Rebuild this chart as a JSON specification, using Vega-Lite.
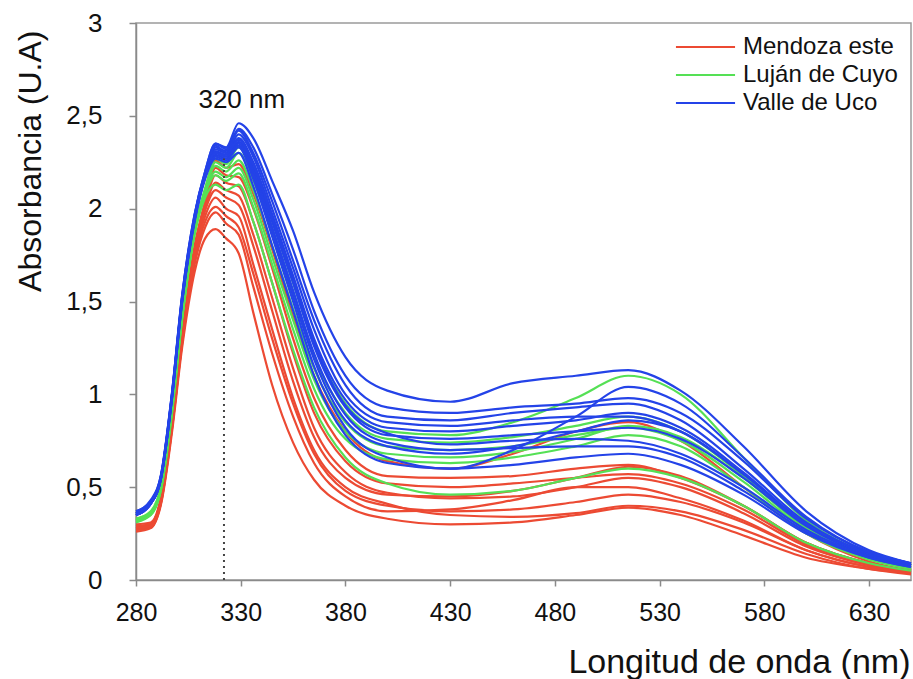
{
"$schema": "https://vega.github.io/schema/vega-lite/v6.json",
"width": 775, "height": 557,
"autosize": {"type": "none"},
"padding": {"left": 136, "top": 23, "right": 2, "bottom": 99},
"background": "white",
"datasets": {
"series": [
{"s":"R1","g":"Mendoza este"},{"s":"R2","g":"Mendoza este"},{"s":"R3","g":"Mendoza este"},{"s":"R4","g":"Mendoza este"},{"s":"R5","g":"Mendoza este"},{"s":"R6","g":"Mendoza este"},{"s":"R7","g":"Mendoza este"},{"s":"R8","g":"Mendoza este"},{"s":"R9","g":"Mendoza este"},
{"s":"G1","g":"Luján de Cuyo"},{"s":"G2","g":"Luján de Cuyo"},{"s":"G3","g":"Luján de Cuyo"},{"s":"G4","g":"Luján de Cuyo"},{"s":"G5","g":"Luján de Cuyo"},{"s":"G6","g":"Luján de Cuyo"},
{"s":"B1","g":"Valle de Uco"},{"s":"B2","g":"Valle de Uco"},{"s":"B3","g":"Valle de Uco"},{"s":"B4","g":"Valle de Uco"},{"s":"B5","g":"Valle de Uco"},{"s":"B6","g":"Valle de Uco"},{"s":"B7","g":"Valle de Uco"},{"s":"B8","g":"Valle de Uco"},{"s":"B9","g":"Valle de Uco"},{"s":"B10","g":"Valle de Uco"},{"s":"B11","g":"Valle de Uco"}
],
"spectra": [
{"s":"R1","x":280,"y":0.3},{"s":"R1","x":287,"y":0.31},{"s":"R1","x":292,"y":0.45},{"s":"R1","x":297,"y":0.84},{"s":"R1","x":302,"y":1.32},{"s":"R1","x":308,"y":1.8},{"s":"R1","x":313,"y":2.04},{"s":"R1","x":318,"y":2.26},{"s":"R1","x":323,"y":2.22},{"s":"R1","x":329,"y":2.24},{"s":"R1","x":336,"y":2.08},{"s":"R1","x":345,"y":1.78},{"s":"R1","x":355,"y":1.42},{"s":"R1","x":365,"y":1.1},{"s":"R1","x":380,"y":0.8},{"s":"R1","x":400,"y":0.64},{"s":"R1","x":430,"y":0.6},{"s":"R1","x":460,"y":0.68},{"s":"R1","x":490,"y":0.8},{"s":"R1","x":515,"y":0.85},{"s":"R1","x":540,"y":0.75},{"s":"R1","x":570,"y":0.5},{"s":"R1","x":600,"y":0.25},{"s":"R1","x":630,"y":0.1},{"s":"R1","x":650,"y":0.05},
{"s":"R2","x":280,"y":0.29},{"s":"R2","x":287,"y":0.3},{"s":"R2","x":292,"y":0.44},{"s":"R2","x":297,"y":0.83},{"s":"R2","x":302,"y":1.31},{"s":"R2","x":308,"y":1.79},{"s":"R2","x":313,"y":2.03},{"s":"R2","x":318,"y":2.22},{"s":"R2","x":323,"y":2.18},{"s":"R2","x":329,"y":2.17},{"s":"R2","x":336,"y":2.0},{"s":"R2","x":345,"y":1.68},{"s":"R2","x":355,"y":1.3},{"s":"R2","x":365,"y":0.98},{"s":"R2","x":380,"y":0.7},{"s":"R2","x":400,"y":0.56},{"s":"R2","x":430,"y":0.55},{"s":"R2","x":460,"y":0.56},{"s":"R2","x":490,"y":0.6},{"s":"R2","x":515,"y":0.62},{"s":"R2","x":540,"y":0.55},{"s":"R2","x":570,"y":0.4},{"s":"R2","x":600,"y":0.2},{"s":"R2","x":630,"y":0.09},{"s":"R2","x":650,"y":0.05},
{"s":"R3","x":280,"y":0.28},{"s":"R3","x":287,"y":0.3},{"s":"R3","x":292,"y":0.44},{"s":"R3","x":297,"y":0.82},{"s":"R3","x":302,"y":1.3},{"s":"R3","x":308,"y":1.78},{"s":"R3","x":313,"y":2.02},{"s":"R3","x":318,"y":2.18},{"s":"R3","x":323,"y":2.14},{"s":"R3","x":329,"y":2.12},{"s":"R3","x":336,"y":1.93},{"s":"R3","x":345,"y":1.6},{"s":"R3","x":355,"y":1.22},{"s":"R3","x":365,"y":0.9},{"s":"R3","x":380,"y":0.64},{"s":"R3","x":400,"y":0.52},{"s":"R3","x":430,"y":0.5},{"s":"R3","x":460,"y":0.52},{"s":"R3","x":490,"y":0.55},{"s":"R3","x":515,"y":0.57},{"s":"R3","x":540,"y":0.52},{"s":"R3","x":570,"y":0.38},{"s":"R3","x":600,"y":0.19},{"s":"R3","x":630,"y":0.08},{"s":"R3","x":650,"y":0.05},
{"s":"R4","x":280,"y":0.29},{"s":"R4","x":287,"y":0.3},{"s":"R4","x":292,"y":0.44},{"s":"R4","x":297,"y":0.83},{"s":"R4","x":302,"y":1.3},{"s":"R4","x":308,"y":1.77},{"s":"R4","x":313,"y":2.0},{"s":"R4","x":318,"y":2.14},{"s":"R4","x":323,"y":2.1},{"s":"R4","x":329,"y":2.07},{"s":"R4","x":336,"y":1.86},{"s":"R4","x":345,"y":1.52},{"s":"R4","x":355,"y":1.14},{"s":"R4","x":365,"y":0.82},{"s":"R4","x":380,"y":0.58},{"s":"R4","x":400,"y":0.47},{"s":"R4","x":430,"y":0.44},{"s":"R4","x":460,"y":0.45},{"s":"R4","x":490,"y":0.5},{"s":"R4","x":515,"y":0.55},{"s":"R4","x":540,"y":0.5},{"s":"R4","x":570,"y":0.36},{"s":"R4","x":600,"y":0.18},{"s":"R4","x":630,"y":0.08},{"s":"R4","x":650,"y":0.04},
{"s":"R5","x":280,"y":0.28},{"s":"R5","x":287,"y":0.29},{"s":"R5","x":292,"y":0.43},{"s":"R5","x":297,"y":0.82},{"s":"R5","x":302,"y":1.29},{"s":"R5","x":308,"y":1.76},{"s":"R5","x":313,"y":1.99},{"s":"R5","x":318,"y":2.1},{"s":"R5","x":323,"y":2.06},{"s":"R5","x":329,"y":2.02},{"s":"R5","x":336,"y":1.8},{"s":"R5","x":345,"y":1.45},{"s":"R5","x":355,"y":1.07},{"s":"R5","x":365,"y":0.77},{"s":"R5","x":380,"y":0.55},{"s":"R5","x":400,"y":0.46},{"s":"R5","x":430,"y":0.45},{"s":"R5","x":460,"y":0.48},{"s":"R5","x":490,"y":0.55},{"s":"R5","x":515,"y":0.61},{"s":"R5","x":540,"y":0.56},{"s":"R5","x":570,"y":0.4},{"s":"R5","x":600,"y":0.2},{"s":"R5","x":630,"y":0.09},{"s":"R5","x":650,"y":0.05},
{"s":"R6","x":280,"y":0.27},{"s":"R6","x":287,"y":0.29},{"s":"R6","x":292,"y":0.42},{"s":"R6","x":297,"y":0.8},{"s":"R6","x":302,"y":1.28},{"s":"R6","x":308,"y":1.72},{"s":"R6","x":313,"y":1.93},{"s":"R6","x":318,"y":2.01},{"s":"R6","x":323,"y":1.96},{"s":"R6","x":329,"y":1.9},{"s":"R6","x":336,"y":1.65},{"s":"R6","x":345,"y":1.3},{"s":"R6","x":355,"y":0.95},{"s":"R6","x":365,"y":0.68},{"s":"R6","x":380,"y":0.48},{"s":"R6","x":400,"y":0.4},{"s":"R6","x":430,"y":0.37},{"s":"R6","x":460,"y":0.38},{"s":"R6","x":490,"y":0.42},{"s":"R6","x":515,"y":0.46},{"s":"R6","x":540,"y":0.42},{"s":"R6","x":570,"y":0.31},{"s":"R6","x":600,"y":0.16},{"s":"R6","x":630,"y":0.07},{"s":"R6","x":650,"y":0.04},
{"s":"R7","x":280,"y":0.27},{"s":"R7","x":287,"y":0.28},{"s":"R7","x":292,"y":0.42},{"s":"R7","x":297,"y":0.8},{"s":"R7","x":302,"y":1.27},{"s":"R7","x":308,"y":1.7},{"s":"R7","x":313,"y":1.9},{"s":"R7","x":318,"y":1.98},{"s":"R7","x":323,"y":1.92},{"s":"R7","x":329,"y":1.86},{"s":"R7","x":336,"y":1.58},{"s":"R7","x":345,"y":1.22},{"s":"R7","x":355,"y":0.88},{"s":"R7","x":365,"y":0.63},{"s":"R7","x":380,"y":0.45},{"s":"R7","x":400,"y":0.37},{"s":"R7","x":430,"y":0.38},{"s":"R7","x":460,"y":0.43},{"s":"R7","x":490,"y":0.5},{"s":"R7","x":515,"y":0.5},{"s":"R7","x":540,"y":0.44},{"s":"R7","x":570,"y":0.32},{"s":"R7","x":600,"y":0.16},{"s":"R7","x":630,"y":0.07},{"s":"R7","x":650,"y":0.04},
{"s":"R8","x":280,"y":0.26},{"s":"R8","x":287,"y":0.28},{"s":"R8","x":292,"y":0.41},{"s":"R8","x":297,"y":0.78},{"s":"R8","x":302,"y":1.25},{"s":"R8","x":308,"y":1.66},{"s":"R8","x":313,"y":1.84},{"s":"R8","x":318,"y":1.89},{"s":"R8","x":323,"y":1.84},{"s":"R8","x":329,"y":1.76},{"s":"R8","x":336,"y":1.44},{"s":"R8","x":345,"y":1.05},{"s":"R8","x":355,"y":0.74},{"s":"R8","x":365,"y":0.54},{"s":"R8","x":380,"y":0.4},{"s":"R8","x":400,"y":0.33},{"s":"R8","x":430,"y":0.3},{"s":"R8","x":460,"y":0.31},{"s":"R8","x":490,"y":0.35},{"s":"R8","x":515,"y":0.39},{"s":"R8","x":540,"y":0.35},{"s":"R8","x":570,"y":0.24},{"s":"R8","x":600,"y":0.12},{"s":"R8","x":630,"y":0.06},{"s":"R8","x":650,"y":0.03},
{"s":"R9","x":280,"y":0.28},{"s":"R9","x":287,"y":0.29},{"s":"R9","x":292,"y":0.43},{"s":"R9","x":297,"y":0.81},{"s":"R9","x":302,"y":1.28},{"s":"R9","x":308,"y":1.74},{"s":"R9","x":313,"y":1.96},{"s":"R9","x":318,"y":2.06},{"s":"R9","x":323,"y":2.0},{"s":"R9","x":329,"y":1.96},{"s":"R9","x":336,"y":1.7},{"s":"R9","x":345,"y":1.35},{"s":"R9","x":355,"y":0.98},{"s":"R9","x":365,"y":0.7},{"s":"R9","x":380,"y":0.5},{"s":"R9","x":400,"y":0.41},{"s":"R9","x":430,"y":0.35},{"s":"R9","x":460,"y":0.34},{"s":"R9","x":490,"y":0.36},{"s":"R9","x":515,"y":0.4},{"s":"R9","x":540,"y":0.37},{"s":"R9","x":570,"y":0.27},{"s":"R9","x":600,"y":0.14},{"s":"R9","x":630,"y":0.06},{"s":"R9","x":650,"y":0.04},
{"s":"G1","x":280,"y":0.33},{"s":"G1","x":287,"y":0.37},{"s":"G1","x":292,"y":0.51},{"s":"G1","x":297,"y":0.91},{"s":"G1","x":302,"y":1.43},{"s":"G1","x":308,"y":1.89},{"s":"G1","x":313,"y":2.11},{"s":"G1","x":318,"y":2.27},{"s":"G1","x":323,"y":2.24},{"s":"G1","x":329,"y":2.33},{"s":"G1","x":336,"y":2.2},{"s":"G1","x":345,"y":1.93},{"s":"G1","x":355,"y":1.6},{"s":"G1","x":365,"y":1.27},{"s":"G1","x":380,"y":0.95},{"s":"G1","x":400,"y":0.8},{"s":"G1","x":430,"y":0.78},{"s":"G1","x":460,"y":0.85},{"s":"G1","x":490,"y":0.98},{"s":"G1","x":515,"y":1.1},{"s":"G1","x":540,"y":1.0},{"s":"G1","x":570,"y":0.66},{"s":"G1","x":600,"y":0.32},{"s":"G1","x":630,"y":0.14},{"s":"G1","x":650,"y":0.08},
{"s":"G2","x":280,"y":0.32},{"s":"G2","x":287,"y":0.36},{"s":"G2","x":292,"y":0.5},{"s":"G2","x":297,"y":0.9},{"s":"G2","x":302,"y":1.42},{"s":"G2","x":308,"y":1.88},{"s":"G2","x":313,"y":2.1},{"s":"G2","x":318,"y":2.25},{"s":"G2","x":323,"y":2.22},{"s":"G2","x":329,"y":2.3},{"s":"G2","x":336,"y":2.15},{"s":"G2","x":345,"y":1.87},{"s":"G2","x":355,"y":1.53},{"s":"G2","x":365,"y":1.2},{"s":"G2","x":380,"y":0.9},{"s":"G2","x":400,"y":0.76},{"s":"G2","x":430,"y":0.74},{"s":"G2","x":460,"y":0.77},{"s":"G2","x":490,"y":0.83},{"s":"G2","x":515,"y":0.88},{"s":"G2","x":540,"y":0.8},{"s":"G2","x":570,"y":0.56},{"s":"G2","x":600,"y":0.28},{"s":"G2","x":630,"y":0.12},{"s":"G2","x":650,"y":0.07},
{"s":"G3","x":280,"y":0.33},{"s":"G3","x":287,"y":0.36},{"s":"G3","x":292,"y":0.5},{"s":"G3","x":297,"y":0.9},{"s":"G3","x":302,"y":1.42},{"s":"G3","x":308,"y":1.88},{"s":"G3","x":313,"y":2.1},{"s":"G3","x":318,"y":2.23},{"s":"G3","x":323,"y":2.2},{"s":"G3","x":329,"y":2.26},{"s":"G3","x":336,"y":2.1},{"s":"G3","x":345,"y":1.8},{"s":"G3","x":355,"y":1.46},{"s":"G3","x":365,"y":1.14},{"s":"G3","x":380,"y":0.85},{"s":"G3","x":400,"y":0.72},{"s":"G3","x":430,"y":0.7},{"s":"G3","x":460,"y":0.72},{"s":"G3","x":490,"y":0.78},{"s":"G3","x":515,"y":0.82},{"s":"G3","x":540,"y":0.75},{"s":"G3","x":570,"y":0.53},{"s":"G3","x":600,"y":0.27},{"s":"G3","x":630,"y":0.12},{"s":"G3","x":650,"y":0.07},
{"s":"G4","x":280,"y":0.32},{"s":"G4","x":287,"y":0.36},{"s":"G4","x":292,"y":0.5},{"s":"G4","x":297,"y":0.9},{"s":"G4","x":302,"y":1.41},{"s":"G4","x":308,"y":1.87},{"s":"G4","x":313,"y":2.09},{"s":"G4","x":318,"y":2.2},{"s":"G4","x":323,"y":2.17},{"s":"G4","x":329,"y":2.22},{"s":"G4","x":336,"y":2.05},{"s":"G4","x":345,"y":1.74},{"s":"G4","x":355,"y":1.4},{"s":"G4","x":365,"y":1.08},{"s":"G4","x":380,"y":0.8},{"s":"G4","x":400,"y":0.68},{"s":"G4","x":430,"y":0.66},{"s":"G4","x":460,"y":0.69},{"s":"G4","x":490,"y":0.76},{"s":"G4","x":515,"y":0.83},{"s":"G4","x":540,"y":0.77},{"s":"G4","x":570,"y":0.55},{"s":"G4","x":600,"y":0.28},{"s":"G4","x":630,"y":0.12},{"s":"G4","x":650,"y":0.07},
{"s":"G5","x":280,"y":0.32},{"s":"G5","x":287,"y":0.35},{"s":"G5","x":292,"y":0.49},{"s":"G5","x":297,"y":0.89},{"s":"G5","x":302,"y":1.41},{"s":"G5","x":308,"y":1.87},{"s":"G5","x":313,"y":2.08},{"s":"G5","x":318,"y":2.18},{"s":"G5","x":323,"y":2.15},{"s":"G5","x":329,"y":2.19},{"s":"G5","x":336,"y":2.01},{"s":"G5","x":345,"y":1.7},{"s":"G5","x":355,"y":1.35},{"s":"G5","x":365,"y":1.03},{"s":"G5","x":380,"y":0.76},{"s":"G5","x":400,"y":0.65},{"s":"G5","x":430,"y":0.63},{"s":"G5","x":460,"y":0.66},{"s":"G5","x":490,"y":0.72},{"s":"G5","x":515,"y":0.78},{"s":"G5","x":540,"y":0.72},{"s":"G5","x":570,"y":0.5},{"s":"G5","x":600,"y":0.25},{"s":"G5","x":630,"y":0.11},{"s":"G5","x":650,"y":0.06},
{"s":"G6","x":280,"y":0.31},{"s":"G6","x":287,"y":0.35},{"s":"G6","x":292,"y":0.49},{"s":"G6","x":297,"y":0.88},{"s":"G6","x":302,"y":1.4},{"s":"G6","x":308,"y":1.86},{"s":"G6","x":313,"y":2.06},{"s":"G6","x":318,"y":2.13},{"s":"G6","x":323,"y":2.1},{"s":"G6","x":329,"y":2.13},{"s":"G6","x":336,"y":1.93},{"s":"G6","x":345,"y":1.6},{"s":"G6","x":355,"y":1.24},{"s":"G6","x":365,"y":0.93},{"s":"G6","x":380,"y":0.66},{"s":"G6","x":400,"y":0.52},{"s":"G6","x":430,"y":0.46},{"s":"G6","x":460,"y":0.48},{"s":"G6","x":490,"y":0.55},{"s":"G6","x":515,"y":0.6},{"s":"G6","x":540,"y":0.55},{"s":"G6","x":570,"y":0.4},{"s":"G6","x":600,"y":0.2},{"s":"G6","x":630,"y":0.09},{"s":"G6","x":650,"y":0.05},
{"s":"B1","x":280,"y":0.37},{"s":"B1","x":287,"y":0.43},{"s":"B1","x":292,"y":0.57},{"s":"B1","x":297,"y":0.99},{"s":"B1","x":302,"y":1.53},{"s":"B1","x":308,"y":1.97},{"s":"B1","x":313,"y":2.2},{"s":"B1","x":318,"y":2.35},{"s":"B1","x":323,"y":2.33},{"s":"B1","x":329,"y":2.46},{"s":"B1","x":336,"y":2.38},{"s":"B1","x":345,"y":2.15},{"s":"B1","x":355,"y":1.88},{"s":"B1","x":365,"y":1.55},{"s":"B1","x":380,"y":1.2},{"s":"B1","x":400,"y":1.02},{"s":"B1","x":430,"y":0.96},{"s":"B1","x":460,"y":1.06},{"s":"B1","x":490,"y":1.1},{"s":"B1","x":515,"y":1.13},{"s":"B1","x":540,"y":1.02},{"s":"B1","x":570,"y":0.72},{"s":"B1","x":600,"y":0.37},{"s":"B1","x":630,"y":0.16},{"s":"B1","x":650,"y":0.09},
{"s":"B2","x":280,"y":0.36},{"s":"B2","x":287,"y":0.42},{"s":"B2","x":292,"y":0.56},{"s":"B2","x":297,"y":0.98},{"s":"B2","x":302,"y":1.52},{"s":"B2","x":308,"y":1.96},{"s":"B2","x":313,"y":2.2},{"s":"B2","x":318,"y":2.35},{"s":"B2","x":323,"y":2.32},{"s":"B2","x":329,"y":2.43},{"s":"B2","x":336,"y":2.33},{"s":"B2","x":345,"y":2.08},{"s":"B2","x":355,"y":1.78},{"s":"B2","x":365,"y":1.45},{"s":"B2","x":380,"y":1.1},{"s":"B2","x":400,"y":0.93},{"s":"B2","x":430,"y":0.9},{"s":"B2","x":460,"y":0.93},{"s":"B2","x":490,"y":0.95},{"s":"B2","x":515,"y":0.98},{"s":"B2","x":540,"y":0.9},{"s":"B2","x":570,"y":0.64},{"s":"B2","x":600,"y":0.33},{"s":"B2","x":630,"y":0.15},{"s":"B2","x":650,"y":0.09},
{"s":"B3","x":280,"y":0.37},{"s":"B3","x":287,"y":0.42},{"s":"B3","x":292,"y":0.57},{"s":"B3","x":297,"y":0.99},{"s":"B3","x":302,"y":1.53},{"s":"B3","x":308,"y":1.97},{"s":"B3","x":313,"y":2.19},{"s":"B3","x":318,"y":2.33},{"s":"B3","x":323,"y":2.31},{"s":"B3","x":329,"y":2.42},{"s":"B3","x":336,"y":2.3},{"s":"B3","x":345,"y":2.04},{"s":"B3","x":355,"y":1.72},{"s":"B3","x":365,"y":1.4},{"s":"B3","x":380,"y":1.05},{"s":"B3","x":400,"y":0.88},{"s":"B3","x":430,"y":0.86},{"s":"B3","x":460,"y":0.9},{"s":"B3","x":490,"y":0.93},{"s":"B3","x":515,"y":0.95},{"s":"B3","x":540,"y":0.86},{"s":"B3","x":570,"y":0.6},{"s":"B3","x":600,"y":0.31},{"s":"B3","x":630,"y":0.14},{"s":"B3","x":650,"y":0.08},
{"s":"B4","x":280,"y":0.35},{"s":"B4","x":287,"y":0.41},{"s":"B4","x":292,"y":0.55},{"s":"B4","x":297,"y":0.97},{"s":"B4","x":302,"y":1.51},{"s":"B4","x":308,"y":1.95},{"s":"B4","x":313,"y":2.18},{"s":"B4","x":318,"y":2.32},{"s":"B4","x":323,"y":2.3},{"s":"B4","x":329,"y":2.4},{"s":"B4","x":336,"y":2.28},{"s":"B4","x":345,"y":2.0},{"s":"B4","x":355,"y":1.68},{"s":"B4","x":365,"y":1.35},{"s":"B4","x":380,"y":1.0},{"s":"B4","x":400,"y":0.85},{"s":"B4","x":430,"y":0.83},{"s":"B4","x":460,"y":0.86},{"s":"B4","x":490,"y":0.88},{"s":"B4","x":515,"y":0.88},{"s":"B4","x":540,"y":0.8},{"s":"B4","x":570,"y":0.57},{"s":"B4","x":600,"y":0.3},{"s":"B4","x":630,"y":0.14},{"s":"B4","x":650,"y":0.08},
{"s":"B5","x":280,"y":0.36},{"s":"B5","x":287,"y":0.42},{"s":"B5","x":292,"y":0.56},{"s":"B5","x":297,"y":0.98},{"s":"B5","x":302,"y":1.52},{"s":"B5","x":308,"y":1.96},{"s":"B5","x":313,"y":2.19},{"s":"B5","x":318,"y":2.34},{"s":"B5","x":323,"y":2.3},{"s":"B5","x":329,"y":2.38},{"s":"B5","x":336,"y":2.25},{"s":"B5","x":345,"y":1.97},{"s":"B5","x":355,"y":1.64},{"s":"B5","x":365,"y":1.3},{"s":"B5","x":380,"y":0.97},{"s":"B5","x":400,"y":0.82},{"s":"B5","x":430,"y":0.8},{"s":"B5","x":460,"y":0.83},{"s":"B5","x":490,"y":0.86},{"s":"B5","x":515,"y":0.9},{"s":"B5","x":540,"y":0.82},{"s":"B5","x":570,"y":0.58},{"s":"B5","x":600,"y":0.3},{"s":"B5","x":630,"y":0.14},{"s":"B5","x":650,"y":0.08},
{"s":"B6","x":280,"y":0.35},{"s":"B6","x":287,"y":0.41},{"s":"B6","x":292,"y":0.55},{"s":"B6","x":297,"y":0.97},{"s":"B6","x":302,"y":1.5},{"s":"B6","x":308,"y":1.94},{"s":"B6","x":313,"y":2.17},{"s":"B6","x":318,"y":2.3},{"s":"B6","x":323,"y":2.28},{"s":"B6","x":329,"y":2.36},{"s":"B6","x":336,"y":2.22},{"s":"B6","x":345,"y":1.93},{"s":"B6","x":355,"y":1.6},{"s":"B6","x":365,"y":1.26},{"s":"B6","x":380,"y":0.93},{"s":"B6","x":400,"y":0.78},{"s":"B6","x":430,"y":0.76},{"s":"B6","x":460,"y":0.78},{"s":"B6","x":490,"y":0.8},{"s":"B6","x":515,"y":0.82},{"s":"B6","x":540,"y":0.76},{"s":"B6","x":570,"y":0.55},{"s":"B6","x":600,"y":0.29},{"s":"B6","x":630,"y":0.13},{"s":"B6","x":650,"y":0.08},
{"s":"B7","x":280,"y":0.36},{"s":"B7","x":287,"y":0.42},{"s":"B7","x":292,"y":0.56},{"s":"B7","x":297,"y":0.98},{"s":"B7","x":302,"y":1.51},{"s":"B7","x":308,"y":1.95},{"s":"B7","x":313,"y":2.18},{"s":"B7","x":318,"y":2.31},{"s":"B7","x":323,"y":2.29},{"s":"B7","x":329,"y":2.37},{"s":"B7","x":336,"y":2.24},{"s":"B7","x":345,"y":1.95},{"s":"B7","x":355,"y":1.62},{"s":"B7","x":365,"y":1.28},{"s":"B7","x":380,"y":0.94},{"s":"B7","x":400,"y":0.79},{"s":"B7","x":430,"y":0.73},{"s":"B7","x":460,"y":0.75},{"s":"B7","x":490,"y":0.76},{"s":"B7","x":515,"y":0.75},{"s":"B7","x":540,"y":0.68},{"s":"B7","x":570,"y":0.5},{"s":"B7","x":600,"y":0.27},{"s":"B7","x":630,"y":0.13},{"s":"B7","x":650,"y":0.08},
{"s":"B8","x":280,"y":0.35},{"s":"B8","x":287,"y":0.41},{"s":"B8","x":292,"y":0.55},{"s":"B8","x":297,"y":0.96},{"s":"B8","x":302,"y":1.5},{"s":"B8","x":308,"y":1.94},{"s":"B8","x":313,"y":2.17},{"s":"B8","x":318,"y":2.29},{"s":"B8","x":323,"y":2.27},{"s":"B8","x":329,"y":2.35},{"s":"B8","x":336,"y":2.2},{"s":"B8","x":345,"y":1.9},{"s":"B8","x":355,"y":1.56},{"s":"B8","x":365,"y":1.22},{"s":"B8","x":380,"y":0.89},{"s":"B8","x":400,"y":0.74},{"s":"B8","x":430,"y":0.7},{"s":"B8","x":460,"y":0.71},{"s":"B8","x":490,"y":0.72},{"s":"B8","x":515,"y":0.72},{"s":"B8","x":540,"y":0.66},{"s":"B8","x":570,"y":0.48},{"s":"B8","x":600,"y":0.26},{"s":"B8","x":630,"y":0.12},{"s":"B8","x":650,"y":0.07},
{"s":"B9","x":280,"y":0.36},{"s":"B9","x":287,"y":0.42},{"s":"B9","x":292,"y":0.56},{"s":"B9","x":297,"y":0.97},{"s":"B9","x":302,"y":1.51},{"s":"B9","x":308,"y":1.95},{"s":"B9","x":313,"y":2.18},{"s":"B9","x":318,"y":2.3},{"s":"B9","x":323,"y":2.28},{"s":"B9","x":329,"y":2.34},{"s":"B9","x":336,"y":2.18},{"s":"B9","x":345,"y":1.88},{"s":"B9","x":355,"y":1.53},{"s":"B9","x":365,"y":1.19},{"s":"B9","x":380,"y":0.86},{"s":"B9","x":400,"y":0.72},{"s":"B9","x":430,"y":0.68},{"s":"B9","x":460,"y":0.72},{"s":"B9","x":490,"y":0.8},{"s":"B9","x":515,"y":0.86},{"s":"B9","x":540,"y":0.8},{"s":"B9","x":570,"y":0.57},{"s":"B9","x":600,"y":0.3},{"s":"B9","x":630,"y":0.14},{"s":"B9","x":650,"y":0.08},
{"s":"B10","x":280,"y":0.35},{"s":"B10","x":287,"y":0.41},{"s":"B10","x":292,"y":0.55},{"s":"B10","x":297,"y":0.96},{"s":"B10","x":302,"y":1.5},{"s":"B10","x":308,"y":1.94},{"s":"B10","x":313,"y":2.17},{"s":"B10","x":318,"y":2.28},{"s":"B10","x":323,"y":2.26},{"s":"B10","x":329,"y":2.33},{"s":"B10","x":336,"y":2.16},{"s":"B10","x":345,"y":1.85},{"s":"B10","x":355,"y":1.5},{"s":"B10","x":365,"y":1.15},{"s":"B10","x":380,"y":0.82},{"s":"B10","x":400,"y":0.66},{"s":"B10","x":430,"y":0.6},{"s":"B10","x":460,"y":0.7},{"s":"B10","x":490,"y":0.88},{"s":"B10","x":515,"y":1.04},{"s":"B10","x":540,"y":0.95},{"s":"B10","x":570,"y":0.66},{"s":"B10","x":600,"y":0.34},{"s":"B10","x":630,"y":0.15},{"s":"B10","x":650,"y":0.09},
{"s":"B11","x":280,"y":0.35},{"s":"B11","x":287,"y":0.41},{"s":"B11","x":292,"y":0.55},{"s":"B11","x":297,"y":0.96},{"s":"B11","x":302,"y":1.49},{"s":"B11","x":308,"y":1.93},{"s":"B11","x":313,"y":2.16},{"s":"B11","x":318,"y":2.27},{"s":"B11","x":323,"y":2.25},{"s":"B11","x":329,"y":2.3},{"s":"B11","x":336,"y":2.12},{"s":"B11","x":345,"y":1.8},{"s":"B11","x":355,"y":1.45},{"s":"B11","x":365,"y":1.1},{"s":"B11","x":380,"y":0.78},{"s":"B11","x":400,"y":0.63},{"s":"B11","x":430,"y":0.6},{"s":"B11","x":460,"y":0.62},{"s":"B11","x":490,"y":0.66},{"s":"B11","x":515,"y":0.68},{"s":"B11","x":540,"y":0.62},{"s":"B11","x":570,"y":0.46},{"s":"B11","x":600,"y":0.25},{"s":"B11","x":630,"y":0.12},{"s":"B11","x":650,"y":0.07}
]
},
"encoding": {
  "x": {"field": "x", "type": "quantitative", "scale": {"domain": [280, 650], "nice": false, "zero": false},
        "axis": {"values": [280,330,380,430,480,530,580,630], "title": "Longitud de onda (nm)", "labelFontSize": 25, "labelFlush": false, "labelOverlap": false, "tickSize": 6, "labelPadding": 14,
                 "titleFontSize": 34, "titleAnchor": "end", "titleAlign": "right", "titleX": 774, "titleY": 92, "titleBaseline": "alphabetic"}},
  "y": {"field": "y", "type": "quantitative", "scale": {"domain": [0, 3], "nice": false},
        "axis": {"values": [0,0.5,1,1.5,2,2.5,3], "format": ".1~f", "labelExpr": "replace(datum.label, '.', ',')", "title": "Absorbancia (U.A)", "labelFontSize": 26, "labelFlush": false, "labelOverlap": false, "tickSize": 7, "labelPadding": 27,
                 "titleFontSize": 32, "titleAngle": 270, "titleAlign": "right", "titleBaseline": "middle", "titleX": -106, "titleY": 7}}
},
"layer": [
  {
    "data": {"name": "spectra"},
    "transform": [{"lookup": "s", "from": {"data": {"name": "series"}, "key": "s", "fields": ["g"]}}],
    "mark": {"type": "line", "interpolate": "monotone", "strokeWidth": 2.2},
    "encoding": {
      "color": {"field": "g", "type": "nominal", "title": null,
        "scale": {"domain": ["Mendoza este", "Luján de Cuyo", "Valle de Uco"], "range": ["#ec4a33", "#55e055", "#2443e8"]},
        "legend": {"orient": "none", "legendX": 557.5, "legendY": 12, "symbolType": "M-3,0H3", "symbolSize": 388, "symbolStrokeWidth": 2,
                   "labelFontSize": 24, "labelOffset": 25.5, "rowPadding": 4, "padding": 0, "labelColor": "#111"}},
      "detail": {"field": "s", "type": "nominal"}
    }
  },
  {
    "data": {"values": [{"x": 322, "y": 0, "y2": 2.27}]},
    "mark": {"type": "rule", "strokeDash": [2, 4], "strokeWidth": 2, "color": "#444"},
    "encoding": {"y2": {"field": "y2"}}
  },
  {
    "data": {"values": [{"x": 330.5, "y": 2.585, "t": "320 nm"}]},
    "mark": {"type": "text", "fontSize": 26, "color": "#111", "align": "center", "baseline": "middle"},
    "encoding": {"text": {"field": "t"}}
  }
],
"config": {
  "font": "Liberation Sans",
  "view": {"stroke": "#9a9a9a", "strokeWidth": 1.5},
  "axis": {"grid": false, "domainColor": "#8a8a8a", "tickColor": "#8a8a8a", "domainWidth": 1.5, "tickWidth": 1.5,
           "labelColor": "#111", "titleColor": "#111", "labelFont": "Liberation Sans", "titleFont": "Liberation Sans", "titleFontWeight": "normal"},
  "legend": {"labelFont": "Liberation Sans"}
}
}
